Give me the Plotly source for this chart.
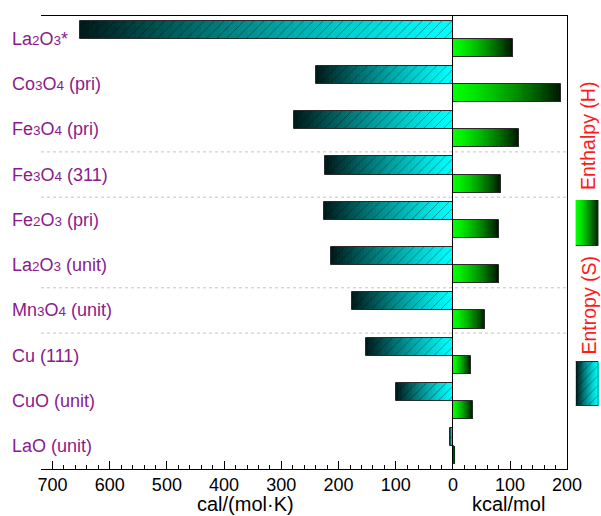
import plotly.graph_objects as go

# ---- data -------------------------------------------------------------
SUB = '<span style="font-size:13.5px">{}</span>'
categories = [
    "La" + SUB.format(2) + "O" + SUB.format(3) + "*",
    "Co" + SUB.format(3) + "O" + SUB.format(4) + " (pri)",
    "Fe" + SUB.format(3) + "O" + SUB.format(4) + " (pri)",
    "Fe" + SUB.format(3) + "O" + SUB.format(4) + " (311)",
    "Fe" + SUB.format(2) + "O" + SUB.format(3) + " (pri)",
    "La" + SUB.format(2) + "O" + SUB.format(3) + " (unit)",
    "Mn" + SUB.format(3) + "O" + SUB.format(4) + " (unit)",
    "Cu (111)",
    "CuO (unit)",
    "LaO (unit)",
]
# entropy magnitude |S|, cal/(mol·K) (drawn leftwards)
entropy = [652, 240, 278, 223, 225, 214, 177, 152, 99, 6]
# enthalpy H, kcal/mol (drawn rightwards)
enthalpy = [105, 190, 116, 84, 80, 80, 57, 31, 35, 2]

entropy_ticks = [700, 600, 500, 400, 300, 200, 100, 0]
enthalpy_ticks = [100, 200]
separator_after = [2, 3, 5, 6]  # dotted separators follow these rows

# ---- page geometry ----------------------------------------------------
W, H = 601, 516
ML, MR, MT, MB = 41, 1, 16, 47
PW, PH = W - ML - MR, H - MT - MB


def fx(p):
    return (p - ML) / PW


def fy(p):
    return (H - MB - p) / PH


ZERO_PX, RIGHT_PX = 453, 567
FONT = "Arial, Liberation Sans, sans-serif"
N = 40  # gradient steps per bar


def cyan_at(t):
    b = 1 - 0.9 * t ** 1.2
    v = round(255 * b)
    return f"rgb(0,{v},{v})"


def green_at(t):
    b = 1 - 0.92 * t ** 1.35
    return f"rgb(0,{round(255 * b)},0)"


fig = go.Figure()


def gradient_bars(values, ys, color_at, xaxis, yaxis, offset, width):
    """Stack of ever-shorter bars so each bar fades from its tip to zero."""
    for k in range(N):
        frac = (N - k) / N
        t = (N - k - 0.5) / N
        fig.add_trace(go.Bar(
            x=[v * frac for v in values], y=ys, orientation="h",
            offset=offset, width=width,
            marker=dict(color=color_at(t), line=dict(width=0)),
            xaxis=xaxis, yaxis=yaxis, hoverinfo="skip", showlegend=False,
        ))


def outline_bars(values, ys, xaxis, yaxis, offset, width, hatch):
    marker = dict(color="rgba(0,0,0,0)", line=dict(color="#2a2a2a", width=1))
    if hatch:
        marker["pattern"] = dict(shape="/", fgcolor="rgba(0,0,0,0.75)",
                                 bgcolor="rgba(0,0,0,0)", size=7,
                                 solidity=0.14, fillmode="overlay")
    fig.add_trace(go.Bar(
        x=values, y=ys, orientation="h", offset=offset, width=width,
        marker=marker, xaxis=xaxis, yaxis=yaxis, showlegend=False,
    ))


# entropy bars sit just above each row centre, enthalpy just below
gradient_bars(entropy, categories, cyan_at, "x", "y", -0.4, 0.4)
outline_bars(entropy, categories, "x", "y", -0.4, 0.4, True)
gradient_bars(enthalpy, categories, green_at, "x2", "y", 0.0, 0.4)
outline_bars(enthalpy, categories, "x2", "y", 0.0, 0.4, False)

# legend swatches (own little axes on the right)
gradient_bars([1], [223], green_at, "x3", "y3", -23, 46)
outline_bars([1], [223], "x3", "y3", -23, 46, False)
gradient_bars([1], [384], cyan_at, "x4", "y3", -22, 44)
outline_bars([1], [384], "x4", "y3", -22, 44, True)

tick_font = dict(family=FONT, size=18, color="black")
title_font = dict(family=FONT, size=20, color="black")
minor = dict(ticks="inside", ticklen=4, tickwidth=1.2, tickcolor="black", dtick=20)
x_common = dict(
    anchor="y", automargin=False, tickmode="array",
    ticks="inside", ticklen=8, tickwidth=1.2, tickcolor="black",
    minor=minor, showgrid=False, zeroline=False,
    showline=True, mirror=True, linecolor="black", linewidth=1.4,
    tickfont=tick_font, ticklabelstandoff=-1,
)

fig.update_layout(
    width=W, height=H,
    margin=dict(l=ML, r=MR, t=MT, b=MB, pad=0, autoexpand=False),
    paper_bgcolor="white", plot_bgcolor="white",
    barmode="overlay", bargap=0,
    font=dict(family=FONT),
    xaxis=dict(
        domain=[0, fx(ZERO_PX)], range=[720, 0],
        tickvals=entropy_ticks, ticktext=[str(v) for v in entropy_ticks],
        **x_common,
    ),
    xaxis2=dict(
        domain=[fx(ZERO_PX), fx(RIGHT_PX)], range=[0, 200],
        tickvals=enthalpy_ticks, ticktext=[str(v) for v in enthalpy_ticks],
        **x_common,
    ),
    yaxis=dict(
        domain=[0, 1], anchor="x2", type="category", automargin=False,
        categoryorder="array", categoryarray=categories,
        range=[len(categories) - 0.5, -0.5],
        showticklabels=False, ticks="", showgrid=False, zeroline=False,
        showline=True, mirror=True, linecolor="black", linewidth=1.4,
    ),
    xaxis3=dict(domain=[fx(575.7), fx(598.3)], range=[0, 1], anchor="y3",
                visible=False, automargin=False),
    xaxis4=dict(overlaying="x3", range=[1, 0], anchor="y3", visible=False,
                automargin=False),
    yaxis3=dict(domain=[fy(406), fy(200)], range=[406, 200], anchor="x3",
                visible=False, automargin=False),
)

# axis unit captions under each half of the scale
for text, (a, b) in [("cal/(mol·K)", (ML, ZERO_PX)), ("kcal/mol", (ZERO_PX, RIGHT_PX))]:
    fig.add_annotation(
        text=text, x=fx((a + b) / 2 - 2), xref="paper", xanchor="center",
        y=fy(515.5), yref="paper", yanchor="bottom", showarrow=False,
        font=title_font, borderpad=0,
    )

# row labels, left aligned
for name in categories:
    fig.add_annotation(
        text=name, x=fx(10), xref="paper", xanchor="left",
        y=name, yref="y", yanchor="middle", showarrow=False,
        font=dict(family=FONT, size=18, color="#8b1a8b"),
    )

# dotted separators between some rows
for i in separator_after:
    fig.add_shape(
        type="line", xref="paper", yref="y", layer="below",
        x0=0, x1=fx(RIGHT_PX), y0=i + 0.5, y1=i + 0.5,
        line=dict(color="#c4c4c4", width=1, dash="dot"),
    )

# rotated legend captions
for text, yc in [("Enthalpy (H)", 136), ("Entropy (S)", 305.5)]:
    fig.add_annotation(
        text=text, textangle=-90, x=fx(588), xref="paper", xanchor="center",
        y=fy(yc), yref="paper", yanchor="middle", showarrow=False,
        font=dict(family=FONT, size=19.5, color="#ff1a1a"),
    )

fig.write_html("out.html")
